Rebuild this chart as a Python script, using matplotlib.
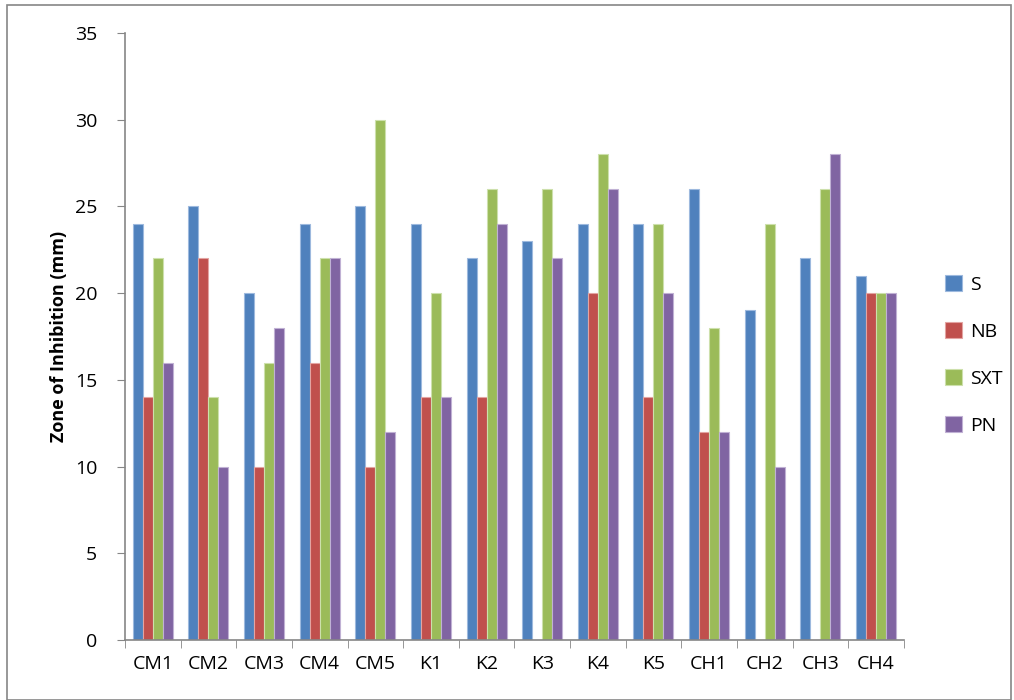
import numpy as np
import matplotlib.pyplot as plt
from matplotlib.patches import Rectangle

plt.rcParams['font.family'] = ['Open Sans', 'DejaVu Sans']

samples = ['CM1', 'CM2', 'CM3', 'CM4', 'CM5', 'K1', 'K2', 'K3', 'K4', 'K5',
           'CH1', 'CH2', 'CH3', 'CH4']
s_vals = [24, 25, 20, 24, 25, 24, 22, 23, 24, 24, 26, 19, 22, 21]
nb_vals = [14, 22, 10, 16, 10, 14, 14, 0, 20, 14, 12, 0, 0, 20]
sxt_vals = [22, 14, 16, 22, 30, 20, 26, 26, 28, 24, 18, 24, 26, 20]
pn_vals = [16, 10, 18, 22, 12, 14, 24, 22, 26, 20, 12, 10, 28, 20]

series = [('S', s_vals, '#4F81BD', '#9DB9DE'),
          ('NB', nb_vals, '#C0504D', '#E3A4A2'),
          ('SXT', sxt_vals, '#9BBB59', '#CDE0AC'),
          ('PN', pn_vals, '#8064A2', '#C0B1D4')]

fig = plt.figure(figsize=(10.14, 7), dpi=100)
ax = fig.add_axes([0.1233, 0.0857, 0.768, 0.8672])

x = np.arange(len(samples))
w = 0.18
for i, (name, vals, col, edge) in enumerate(series):
    ax.bar(x + (i - 1.5) * w, vals, w, color=col, edgecolor=edge,
           linewidth=0.8, label=name)

ax.set_xlim(-0.5, len(samples) - 0.5)
ax.set_ylim(0, 35)
ax.set_yticks(range(0, 36, 5))
ax.set_xticks(x)
ax.set_xticklabels(samples)
ax.set_xticks(np.arange(-0.5, len(samples), 1), minor=True)
ax.tick_params(axis='x', which='major', length=0, pad=11, labelsize=14)
ax.tick_params(axis='x', which='minor', length=6, color='#868686', direction='out')
ax.tick_params(axis='y', length=6, color='#868686', pad=14, labelsize=14)
for side in ['top', 'right']:
    ax.spines[side].set_visible(False)
for side in ['left', 'bottom']:
    ax.spines[side].set_color('#868686')
    ax.spines[side].set_linewidth(1.2)

ax.set_ylabel('Zone of Inhibition (mm)', fontsize=13, fontweight='bold', labelpad=5)

ax.legend(loc='center left', bbox_to_anchor=(1.03, 0.47), frameon=False,
          fontsize=14, labelspacing=1.45, handlelength=0.9, handleheight=0.9,
          handletextpad=0.4)

fig.patches.append(Rectangle((0.007, 0.0), 0.99, 0.993, transform=fig.transFigure,
                             fill=False, edgecolor='#868686', linewidth=1.2))

fig.savefig('out.png', dpi=100)
